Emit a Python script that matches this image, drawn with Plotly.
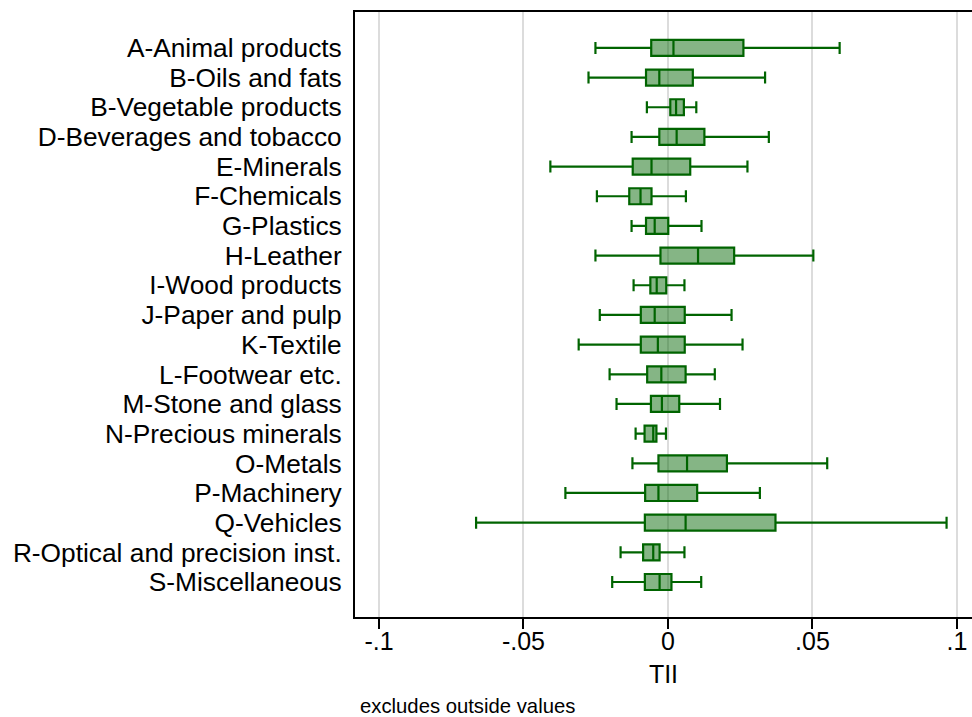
import plotly.graph_objects as go

# Product sections (top to bottom)
sections = [
    "A-Animal products", "B-Oils and fats", "B-Vegetable products",
    "D-Beverages and tobacco", "E-Minerals", "F-Chemicals", "G-Plastics",
    "H-Leather", "I-Wood products", "J-Paper and pulp", "K-Textile",
    "L-Footwear etc.", "M-Stone and glass", "N-Precious minerals",
    "O-Metals", "P-Machinery", "Q-Vehicles",
    "R-Optical and precision inst.", "S-Miscellaneous",
]

# Box-plot summary statistics of TII per section (outside values excluded)
lower_whisker = [-0.0251, -0.0275, -0.0073, -0.0126, -0.0407, -0.0246, -0.0126,
                 -0.0251, -0.0119, -0.0236, -0.0309, -0.0202, -0.0178, -0.0112,
                 -0.0123, -0.0355, -0.0664, -0.0164, -0.0193]
q1 = [-0.0058, -0.0076, 0.0008, -0.0030, -0.0122, -0.0134, -0.0076,
      -0.0026, -0.0061, -0.0094, -0.0094, -0.0072, -0.0059, -0.0081,
      -0.0033, -0.0079, -0.0080, -0.0086, -0.0080]
median = [0.0019, -0.0030, 0.0028, 0.0030, -0.0057, -0.0095, -0.0046,
          0.0104, -0.0039, -0.0046, -0.0035, -0.0023, -0.0021, -0.0051,
          0.0066, -0.0033, 0.0061, -0.0051, -0.0029]
q3 = [0.0261, 0.0086, 0.0055, 0.0126, 0.0077, -0.0057, 0.0001,
      0.0229, -0.0006, 0.0058, 0.0058, 0.0061, 0.0039, -0.0040,
      0.0204, 0.0101, 0.0372, -0.0029, 0.0012]
upper_whisker = [0.0594, 0.0336, 0.0098, 0.0349, 0.0275, 0.0062, 0.0116,
                 0.0503, 0.0057, 0.0220, 0.0258, 0.0162, 0.0180, -0.0007,
                 0.0551, 0.0318, 0.0964, 0.0057, 0.0115]

x_ticks = [-0.1, -0.05, 0, 0.05, 0.1]
x_tick_labels = ["-.1", "-.05", "0", ".05", ".1"]

FONT = "Liberation Sans, Arial, Helvetica, sans-serif"
LINE_GREEN = "rgb(0,100,0)"
FILL_GREEN = "rgba(0,100,0,0.48)"

fig = go.Figure()
fig.add_trace(go.Box(
    y=sections,
    q1=q1,
    median=median,
    q3=q3,
    lowerfence=lower_whisker,
    upperfence=upper_whisker,
    orientation="h",
    width=0.54,
    whiskerwidth=0.75,
    boxpoints=False,
    fillcolor=FILL_GREEN,
    line=dict(color=LINE_GREEN, width=2.2),
    hoverinfo="skip",
    showlegend=False,
))

n = len(sections)
fig.update_layout(
    width=972,
    height=717,
    margin=dict(l=355, r=0, t=12, b=100),
    paper_bgcolor="white",
    plot_bgcolor="white",
    font=dict(family=FONT, color="black"),
    xaxis=dict(
        range=[-0.1083, 0.1052],
        tickvals=x_ticks,
        ticktext=x_tick_labels,
        tickfont=dict(size=25),
        ticks="outside",
        ticklen=10,
        tickwidth=1.5,
        tickcolor="black",
        ticklabelstandoff=-9,
        showgrid=True,
        gridcolor="#dcdcdc",
        gridwidth=2,
        zeroline=False,
        showline=True,
        linecolor="black",
        linewidth=2,
        mirror=True,
        title=dict(text="TII", font=dict(size=25), standoff=11),
    ),
    yaxis=dict(
        type="category",
        categoryorder="array",
        categoryarray=sections,
        tickmode="array",
        tickvals=sections,
        ticktext=sections,
        range=[n - 1 + 1.18, -1.21],
        tickfont=dict(size=26.3),
        ticks="outside",
        ticklen=6,
        tickcolor="rgba(0,0,0,0)",
        showgrid=False,
        zeroline=False,
        showline=True,
        linecolor="black",
        linewidth=2,
    ),
    annotations=[
        dict(
            text="excludes outside values",
            xref="paper", yref="paper",
            x=0, y=-89 / 605,
            xanchor="left", yanchor="middle",
            xshift=3,
            showarrow=False,
            font=dict(size=20.3, family=FONT, color="black"),
        )
    ],
)

fig.write_html("out.html")
